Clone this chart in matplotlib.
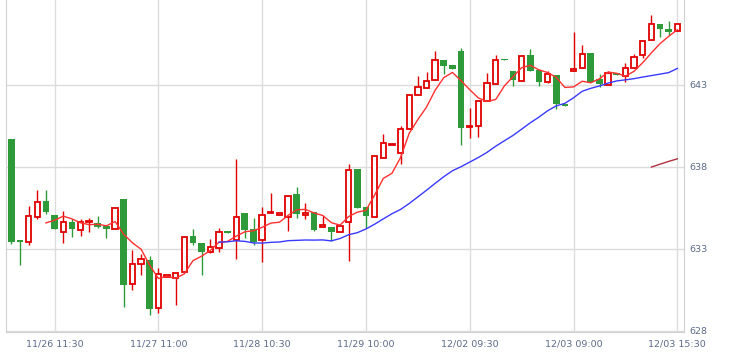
import numpy as np
import pandas as pd
import matplotlib
matplotlib.use('Agg')
import matplotlib.pyplot as plt

# K线数据 (开, 高, 低, 收)
opens = [639.65, 633.5, 633.41, 634.93, 635.93, 635.07, 634.02, 634.65, 634.14, 634.6,
         634.57, 634.36, 634.2, 636.05, 630.87, 632.07, 632.31, 629.38, 631.28, 631.21,
         631.58, 633.77, 633.35, 632.82, 633.04, 634.06, 633.55, 635.15, 634.22, 633.53,
         635.17, 635.05, 634.95, 636.33, 635.05, 635.26, 634.32, 634.34, 634.02, 634.63,
         637.88, 635.56, 634.93, 638.53, 639.3, 638.84, 640.3, 642.37, 642.78, 643.29,
         644.51, 644.16, 645.07, 640.4, 640.48, 641.99, 643.05, 644.55, 643.85, 643.23,
         644.81, 643.9, 643.16, 643.61, 641.82, 643.84, 644.03, 644.94, 643.32, 643.0,
         643.69, 643.49, 644.0, 644.77, 645.74, 646.71, 646.4, 646.26]
highs = [639.65, 633.5, 635.6, 636.58, 636.58, 635.07, 635.32, 634.8, 634.8, 634.85,
         635.0, 634.36, 635.48, 636.05, 632.92, 632.68, 632.56, 631.82, 631.38, 631.5,
         633.71, 634.2, 633.35, 633.59, 634.24, 634.06, 638.47, 635.15, 634.85, 635.52,
         636.4, 635.2, 636.21, 636.78, 635.79, 635.26, 635.0, 634.34, 634.38, 638.16,
         637.88, 635.56, 638.67, 639.99, 639.35, 640.5, 642.37, 643.49, 643.78, 645.06,
         644.51, 644.16, 645.22, 641.56, 641.99, 643.69, 644.8, 644.55, 643.85, 644.75,
         645.16, 643.9, 643.85, 643.61, 641.82, 646.2, 645.38, 644.94, 643.65, 643.85,
         643.69, 644.3, 644.88, 645.67, 647.24, 646.71, 646.9, 646.71]
lows = [633.3, 632.0, 633.23, 634.8, 635.1, 634.18, 633.35, 633.7, 633.79, 634.04,
        634.25, 633.65, 634.2, 629.46, 630.5, 631.41, 628.98, 629.08, 631.28, 629.57,
        631.58, 633.25, 631.39, 632.75, 632.8, 633.96, 632.37, 633.65, 633.23, 632.2,
        635.17, 635.05, 634.08, 634.87, 634.81, 634.1, 634.32, 633.49, 634.02, 632.27,
        635.45, 634.24, 634.93, 638.53, 639.3, 638.16, 640.3, 642.37, 642.78, 643.29,
        643.65, 643.94, 639.32, 639.75, 639.83, 641.99, 643.05, 644.48, 642.94, 643.23,
        643.81, 642.9, 643.1, 641.52, 641.68, 643.84, 644.03, 643.18, 642.82, 643.0,
        643.59, 643.14, 644.0, 644.6, 645.74, 645.9, 645.99, 646.26]
closes = [633.38, 633.4, 635.0, 635.85, 635.21, 634.18, 634.65, 634.18, 634.65, 634.65,
          634.3, 634.18, 635.48, 630.76, 632.04, 632.37, 629.3, 631.43, 631.38, 631.5,
          633.71, 633.32, 632.8, 633.1, 634.02, 633.96, 634.93, 634.12, 633.43, 635.05,
          635.25, 635.2, 636.21, 635.12, 635.18, 634.16, 634.44, 634.0, 634.38, 637.8,
          635.5, 634.97, 638.67, 639.45, 639.35, 640.3, 642.37, 642.86, 643.23, 644.51,
          644.14, 643.94, 640.34, 640.48, 641.99, 643.11, 644.51, 644.48, 643.29, 644.75,
          643.81, 643.15, 643.65, 641.82, 641.68, 643.97, 644.88, 643.18, 643.04, 643.73,
          643.59, 644.0, 644.68, 645.67, 646.71, 646.4, 646.22, 646.71]

tick_pos = [5, 17, 29, 41, 53, 65, 77]
tick_labels = ['11/26 11:30', '11/27 11:00', '11/28 10:30', '11/29 10:00',
               '12/02 09:30', '12/03 09:00', '12/03 15:30']
y_ticks = [628, 633, 638, 643]
ma_periods = [5, 25, 75]
ma_colors = ['#ff3030', '#3a3aff', '#b03040']

df = pd.DataFrame({'open': opens, 'high': highs, 'low': lows, 'close': closes})
x = np.arange(len(df))

fig = plt.figure(figsize=(7.3, 3.58), dpi=100)
ax = fig.add_axes([0.0077, 0.074, 0.9293, 0.926])

red = '#e00000'
green = '#2e9a3a'
up = df['close'] >= df['open']

# 影线
ax.vlines(x[up], df['low'][up], df['high'][up], color=red, lw=1, zorder=2)
ax.vlines(x[~up], df['low'][~up], df['high'][~up], color=green, lw=1, zorder=2)

# 实体
body = (df['close'] - df['open']).abs().clip(lower=0.07)
bottom = df[['open', 'close']].min(axis=1)
ax.bar(x[up], body[up], bottom=bottom[up], width=0.62, facecolor='white',
       edgecolor=red, linewidth=1.3, zorder=3)
ax.bar(x[~up], body[~up], bottom=bottom[~up], width=0.78, color=green,
       linewidth=0, zorder=3)

# 均线
for p, c in zip(ma_periods, ma_colors):
    ma = df['close'].rolling(p).mean()
    ax.plot(x, ma, color=c, lw=1, zorder=4)

ax.set_xlim(-0.66, 77.77)
ax.set_ylim(627.95, 648.15)
ax.set_xticks(tick_pos)
ax.set_xticklabels(tick_labels)
ax.set_yticks(y_ticks)
ax.yaxis.tick_right()
ax.tick_params(length=0, labelsize=6.8, colors='#5d6a88')
ax.tick_params(axis='x', pad=6)
ax.tick_params(axis='y', pad=4)
ax.grid(True, color='#dcdcdc', lw=1)
ax.set_axisbelow(True)
for s in ['left', 'right', 'bottom']:
    ax.spines[s].set_color('#d0d0d0')
ax.spines['top'].set_visible(False)

fig.savefig('out.png', dpi=100)
